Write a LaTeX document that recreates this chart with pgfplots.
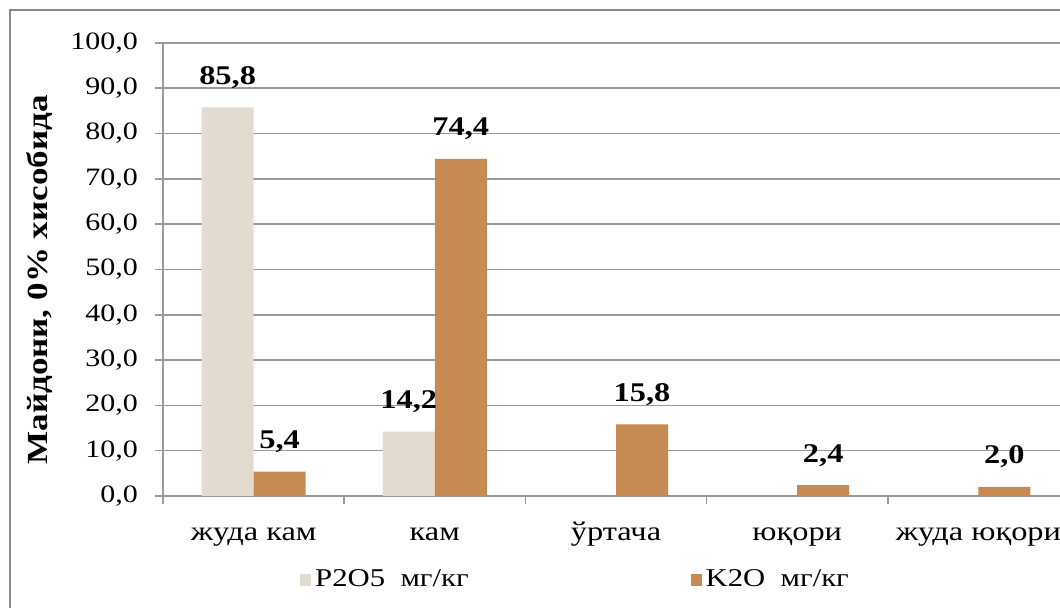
\documentclass[border=0pt]{standalone}
\usepackage{fontspec}
\setmainfont{Liberation Serif}[FakeStretch=1.2]
\usepackage{pgfplots}
\pgfplotsset{compat=1.18}
\definecolor{pcol}{HTML}{E2DCD0}
\definecolor{kcol}{HTML}{C68A52}
\definecolor{gridc}{HTML}{9A9A9A}
\definecolor{framec}{HTML}{8A8A8A}
\begin{document}
\begin{tikzpicture}
\useasboundingbox (0,0) rectangle (530pt,304pt);
\fill[white] (0,0) rectangle (530pt,304pt);
\draw[color=framec, line width=0.7pt] (5pt,-20pt) rectangle (560pt,299pt);
\begin{axis}[
  at={(81.5pt,56pt)}, anchor=south west,
  scale only axis, width=453pt, height=226.5pt,
  ybar=0pt, bar width=26pt,
  xmin=-0.5, xmax=4.5, ymin=0, ymax=100,
  ytick distance=10,
  xtick={-0.5,0.5,1.5,2.5,3.5,4.5}, xticklabels={},
  extra x ticks={0,1,2,3,4},
  extra x tick labels={жуда кам, кам, ўртача, юқори, жуда юқори},
  extra x tick style={major tick length=0pt,
    xticklabel style={anchor=base, yshift=-22.5pt, font=\fontsize{13.5}{15}\selectfont}},
  axis x line*=bottom, axis y line*=left,
  axis line style={gridc, line width=0.8pt},
  tick style={gridc, line width=0.8pt},
  tick align=outside, major tick length=4pt,
  ymajorgrids, grid style={gridc, line width=0.8pt},
  /pgf/number format/assume math mode=true,
  y tick label style={/pgf/number format/.cd, fixed, fixed zerofill, precision=1, use comma, /tikz/.cd, xshift=-5pt},
  ticklabel style={font=\fontsize{12.5}{14}\selectfont, text=black},
  ylabel={Майдони, 0\% хисобида},
  ylabel style={at={(axis description cs:-0.1358,0.477)}, anchor=center, font=\bfseries\fontsize{14.6}{16}\selectfont},
  nodes near coords={\pgfmathprintnumber[fixed,fixed zerofill,precision=1,use comma,assume math mode=true]{\pgfplotspointmeta}},
  every node near coord/.append style={font=\bfseries\fontsize{13.5}{15}\selectfont, text=black, anchor=base, yshift=11.5pt},
  legend style={at={(0.151,-0.1854)}, anchor=west, draw=none, fill=none, legend columns=2,
    inner sep=0pt, font=\fontsize{12.8}{14}\selectfont,
    /tikz/every even column/.append style={column sep=109pt}},
  legend image code/.code={\fill[#1] (0pt,-2.8pt) rectangle (5.5pt,2.8pt);},
]
\addplot[fill=pcol, draw=none] coordinates {(0,85.8) (1,14.2)};
\addplot[fill=kcol, draw=none] coordinates {(0,5.4) (1,74.4) (2,15.8) (3,2.4) (4,2.0)};
\legend{P2O5\ \ мг/кг, K2O\ \ мг/кг}
\end{axis}
\end{tikzpicture}
\end{document}
